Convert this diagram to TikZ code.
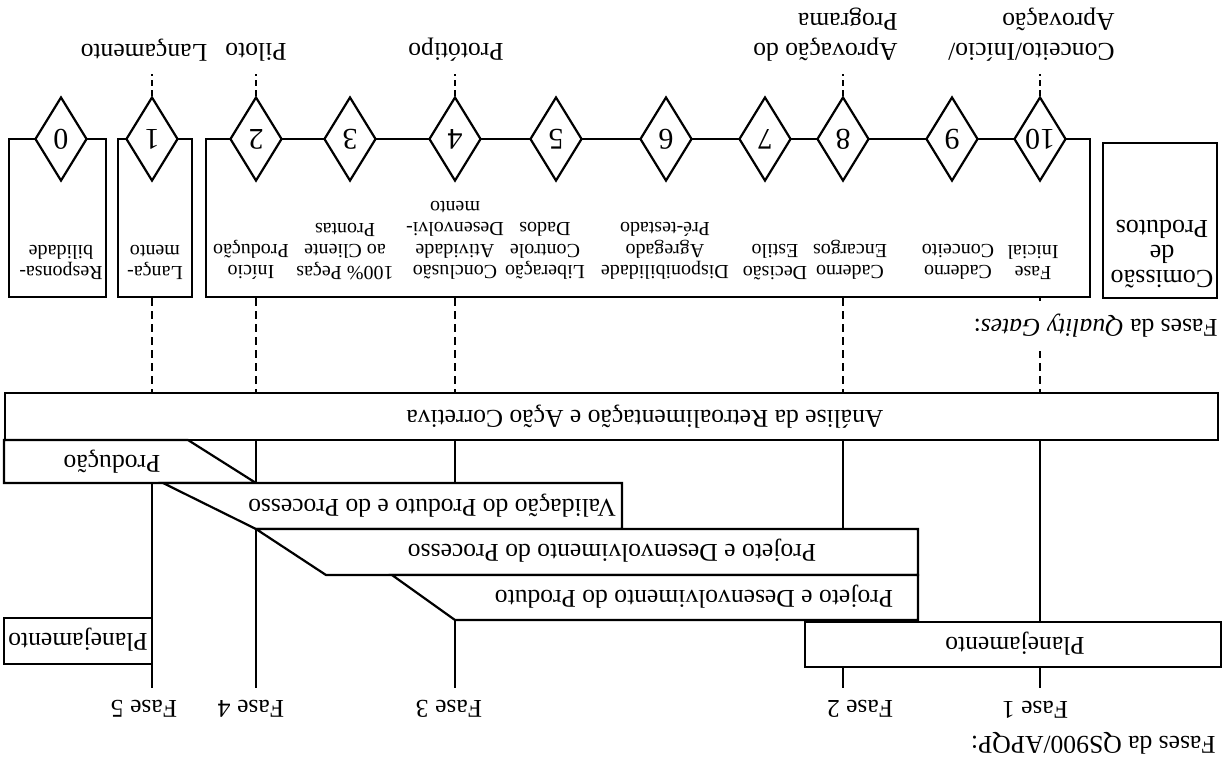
\documentclass[tikz,border=0pt]{standalone}
\usepackage{fontspec}
\usepackage{graphicx}
\setmainfont{Liberation Serif}
\usetikzlibrary{shapes.geometric}
\begin{document}
\begin{tikzpicture}[x=0.5pt,y=-0.5pt,
  every node/.style={inner sep=0pt},
  ln/.style={line width=1.1pt},
  dsh/.style={line width=1.1pt, dash pattern=on 4pt off 2.5pt},
  tick/.style={line width=1.1pt, dash pattern=on 3pt off 2pt},
  lbl/.style={rotate=180, font=\fontsize{12.8}{15}\selectfont},
  gtxt/.style={rotate=180, align=center, anchor=north, font=\fontsize{10}{10.7}\selectfont},
  gate/.style={diamond, draw, fill=white, line width=1.1pt, minimum width=26pt,
    minimum height=42pt, font=\fontsize{15}{15}\selectfont},
  gbox/.style={draw, line width=1.1pt, rectangle},
  bar/.style={draw, line width=1.1pt, fill=white},
]
\useasboundingbox (0,0) rectangle (1231,756);

% quality gate boxes
\node[gbox, minimum width=48.5pt, minimum height=79pt] (box0) at (57.5,218) {};
\node[gbox, minimum width=37pt,   minimum height=79pt] (box1) at (155,218) {};
\node[gbox, minimum width=442pt,  minimum height=79pt] (boxm) at (648,218) {};
\node[gbox, minimum width=57pt,   minimum height=77.5pt] (boxc) at (1160,220.5) {};

% gates
\foreach \n/\x in {0/61,1/152,2/256,3/350,4/455,5/556,6/666,7/765,8/843,9/952,10/1040}
  \node[gate] (g\n) at (\x,139) {\rotatebox[origin=c]{180}{\n}};

% milestone labels above the gates
\node[lbl, anchor=north] (mLan) at (144,62) {Lançamento};
\node[lbl, anchor=north] (mPil) at (256,62) {Piloto};
\node[lbl, anchor=north] (mPro) at (456,62) {Protótipo};
\node[lbl, anchor=north west, align=left] (mApr) at (898,62) {Aprovação do\\Programa};
\node[lbl, anchor=north west, align=left] (mCon) at (1115,62) {Conceito/Início/\\Aprovação};
\foreach \n in {1,2,4,8,10}
  \draw[tick] (g\n.north) -- ++(0,-22);

% gate descriptions
\node[gtxt] (tx0) at (61,280) {Responsa-\\bilidade};
\node[gtxt] (tx1) at (155,280) {Lança-\\mento};
\node[gtxt] (tx2) at (251,280) {Início\\Produção};
\node[gtxt] (tx3) at (345,280) {100\% Peças\\ao Cliente\\Prontas};
\node[gtxt] (tx4) at (455,280) {Conclusão\\Atividade\\Desenvolvi-\\mento};
\node[gtxt] (tx5) at (545,280) {Liberação\\Controle\\Dados};
\node[gtxt] (tx6) at (665,280) {Disponibilidade\\Agregado\\Pré-testado};
\node[gtxt] (tx7) at (775,280) {Decisão\\Estilo};
\node[gtxt] (tx8) at (850,280) {Caderno\\Encargos};
\node[gtxt] (tx9) at (958,280) {Caderno\\Conceito};
\node[gtxt] (tx10) at (1033,280) {Fase\\Inicial};
\node[gtxt, anchor=north, font=\fontsize{13}{12.5}\selectfont] (txc) at (1162,288) {Comissão\\de\\Produtos};

% feedback bar
\node[draw, ln, minimum width=606.5pt, minimum height=23.5pt] (ana) at (611.5,416.5) {};
\node[lbl] (anaT) at (645,417) {Análise da Retroalimentação e Ação Corretiva};

% dashed links gate -> feedback bar
\foreach \n in {1,2,4,8,10}
  \draw[dsh] (g\n |- boxm.south) -- (g\n |- ana.north);
\node[lbl, anchor=west, fill=white, inner ysep=6.5pt] (qg) at (1218,326) {Fases da \textit{Quality Gates}:};

% phase ends
\coordinate (e5) at (152,688);
\coordinate (e4) at (256,688);
\coordinate (e3) at (455,688);
\coordinate (e2) at (843,688);
\coordinate (e1) at (1040,688);
\draw[ln] (152,483) -- (e5);
\draw[ln] (g2 |- ana.south) -- (e4);
\draw[ln] (g4 |- ana.south) -- (e3);
\draw[ln] (g8 |- ana.south) -- (e2);
\draw[ln] (g10 |- ana.south) -- (e1);

% APQP phases
\draw[bar] (4,440) -- (188,440) -- (256,483) -- (4,483) -- cycle;
\node[lbl] (prod) at (112,462) {Produção};
\draw[bar] (163,483) -- (622,483) -- (622,529) -- (256,529) -- cycle;
\node[lbl] (val) at (432,506) {Validação do Produto e do Processo};
\draw[bar] (256,529) -- (918,529) -- (918,575) -- (326,575) -- cycle;
\node[lbl] (pdp) at (612,551) {Projeto e Desenvolvimento do Processo};
\draw[bar] (392,575) -- (918,575) -- (918,620) -- (455,620) -- cycle;
\node[lbl] (pdq) at (694,597) {Projeto e Desenvolvimento do Produto};
\draw[bar] (805,622) rectangle (1221,667);
\node[lbl] (plr) at (1015,644) {Planejamento};
\draw[bar] (4,618) rectangle (152,664);
\node[lbl] (pll) at (78,640) {Planejamento};

% phase labels
\node[lbl] (f5) at (144,709) {Fase 5};
\node[lbl] (f4) at (251,709) {Fase 4};
\node[lbl] (f3) at (449,709) {Fase 3};
\node[lbl] (f2) at (860,709) {Fase 2};
\node[lbl] (f1) at (1035,710) {Fase 1};
\node[lbl, anchor=west] (qs) at (1216,743) {Fases da QS900/APQP:};
\end{tikzpicture}
\end{document}
